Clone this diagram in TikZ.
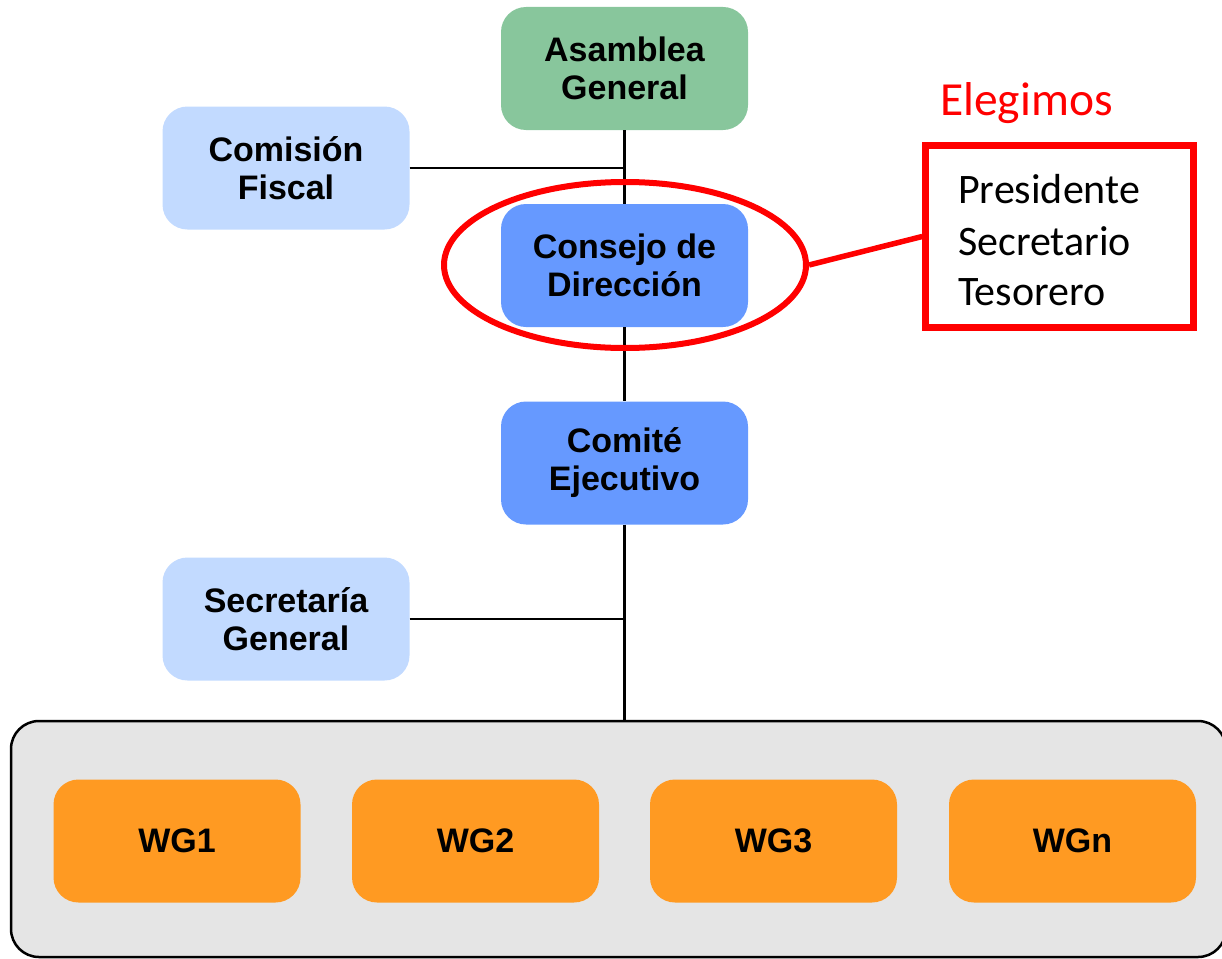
\documentclass[tikz,border=0pt]{standalone}
\usepackage{fontspec}
\setmainfont{Liberation Sans}
\newfontfamily\calibri{Carlito}
\usetikzlibrary{shapes.geometric}
\definecolor{agreen}{RGB}{136,198,156}
\definecolor{lblue}{RGB}{194,218,255}
\definecolor{mblue}{RGB}{102,153,255}
\definecolor{worange}{RGB}{255,154,34}
\definecolor{lgray}{RGB}{229,229,229}
\definecolor{bred}{RGB}{255,0,0}
\tikzset{
  orgbox/.style={rounded corners=25pt, minimum width=247pt, minimum height=123pt,
    inner sep=0pt, align=center, text=black,
    font=\fontsize{34}{38}\selectfont\bfseries},
  conn/.style={line width=2.6pt, black},
  redline/.style={line width=5.5pt, bred},
  rolestext/.style={anchor=base west, font=\calibri\fontsize{42}{51}\selectfont, text=black, inner sep=0pt}
}
\begin{document}
\begin{tikzpicture}[x=1pt,y=-1pt]
\useasboundingbox (0,0) rectangle (1222,958);
% outer container
\node[draw=black, line width=2.5pt, fill=lgray, rounded corners=28pt,
  minimum width=1215pt, minimum height=236pt, inner sep=0pt] (wgs) at (618.5,839) {};
% boxes
\node[orgbox, fill=agreen] (ag) at (624.5,68.5) {Asamblea\\General};
\node[orgbox, fill=lblue] (cf) at (286,168) {Comisión\\Fiscal};
\node[orgbox, fill=mblue] (cd) at (624.5,265.5) {Consejo de\\Dirección};
\node[orgbox, fill=mblue] (ce) at (624.5,463) {Comité\\Ejecutivo};
\node[orgbox, fill=lblue] (sg) at (286,619) {Secretaría\\General};
\node[orgbox, fill=worange] (wg1) at (177,841) {WG1};
\node[orgbox, fill=worange] (wg2) at (475.5,841) {WG2};
\node[orgbox, fill=worange] (wg3) at (773.5,841) {WG3};
\node[orgbox, fill=worange] (wgn) at (1072.5,841) {WGn};
% connectors
\draw[conn] (ag.south) -- (ag.south |- cd.north);
\draw[conn] (cd.south) -- (ce.north);
\draw[conn] (ce.south) -- (ce.south |- wgs.north);
\draw[conn] (cf.east) -- (cf.east -| ag.south);
\draw[conn] (sg.east) -- (sg.east -| ce.south);
% red annotation
\node[draw=bred, line width=6pt, ellipse, minimum width=362pt, minimum height=166pt, inner sep=0pt] (circ) at (625,265) {};
\node[draw=bred, line width=6.5pt, minimum width=268pt, minimum height=182pt, inner sep=0pt] (elect) at (1059.5,236.5) {};
\draw[redline] (circ.east) -- (elect.west);
\node[anchor=base west, font=\calibri\fontsize{47.5}{50}\selectfont, text=bred, inner sep=0pt] (eleg) at (940,115) {Elegimos};
\node[rolestext] (pres) at (958,203) {Presidente};
\node[rolestext] (secr) at (958,255) {Secretario};
\node[rolestext] (teso) at (958,305) {Tesorero};
\end{tikzpicture}
\end{document}
